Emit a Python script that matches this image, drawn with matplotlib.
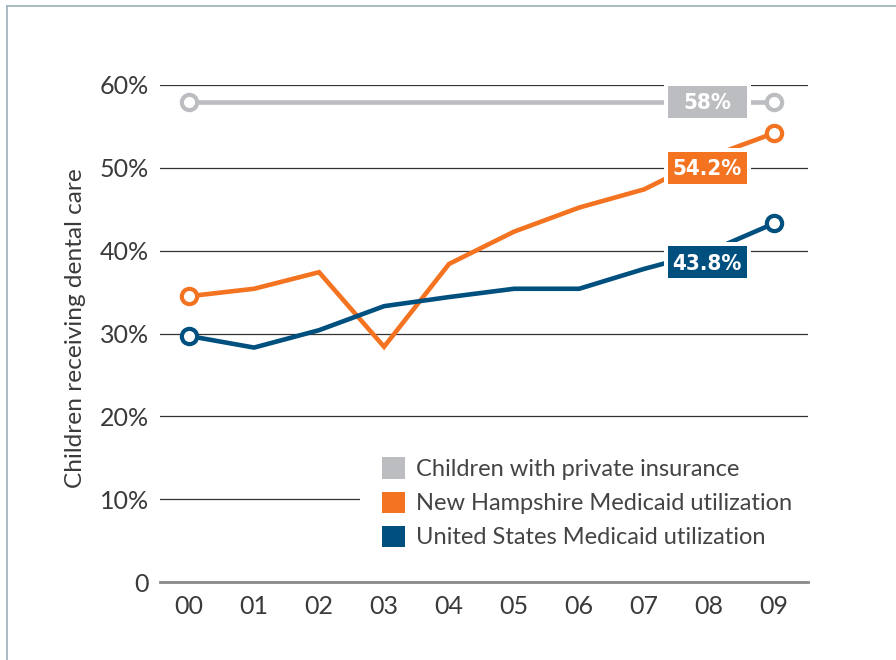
import matplotlib as mpl
mpl.use('Agg')
import matplotlib.pyplot as plt
from matplotlib.patches import Rectangle
from matplotlib.lines import Line2D

years = ['00', '01', '02', '03', '04', '05', '06', '07', '08', '09']
private = [58, 58, 58, 58, 58, 58, 58, 58, 58, 58]
nh_medicaid = [34.5, 35.4, 37.4, 28.4, 38.4, 42.3, 45.2, 47.4, 51.3, 54.2]
us_medicaid = [29.7, 28.3, 30.4, 33.3, 34.4, 35.4, 35.4, 37.8, 39.9, 43.3]
series_names = ['Children with private insurance', 'New Hampshire Medicaid utilization',
                'United States Medicaid utilization']
end_labels = ['58%', '54.2%', '43.8%']
label_y = [58, 50, 38.6]

gray = '#BCBDC0'
orange = '#F37321'
blue = '#00507F'
colors = [gray, orange, blue]

plt.rcParams['font.family'] = ['Lato', 'DejaVu Sans']

fig = plt.figure(figsize=(8.96, 6.6), dpi=100)
ax = fig.add_axes([160/896, 78/660, 648/896, 497/660])

x = list(range(len(years)))
for vals, c, z in zip([private, nh_medicaid, us_medicaid], colors, [3, 4, 5]):
    ax.plot(x, vals, color=c, lw=3.3, zorder=z, solid_joinstyle='miter')
    ax.plot([x[0], x[-1]], [vals[0], vals[-1]], ls='none', marker='o', ms=11,
            mfc='white', mec=c, mew=3, zorder=z + 0.5)

# end value boxes
bw, bh = 79/65, 32/8.28
for txt, yy, c in zip(end_labels, label_y, colors):
    cx = 8 - 0.03
    pw, ph = 8/65, 8/8.28
    ax.add_patch(Rectangle((cx - bw/2 - pw/2, yy - bh/2 - ph/2), bw + pw, bh + ph,
                           facecolor='white', edgecolor='none', zorder=8))
    ax.add_patch(Rectangle((cx - bw/2, yy - bh/2), bw, bh,
                           facecolor=c, edgecolor='none', zorder=9))
    ax.text(cx, yy - 0.2, txt, color='white', fontsize=16, fontweight='bold',
            family='DejaVu Sans', fontstretch='condensed',
            ha='center', va='center', zorder=10)

ax.set_xlim(-0.446, 9.52)
ax.set_ylim(0, 60)
ax.set_yticks([0, 10, 20, 30, 40, 50, 60])
ax.set_yticklabels(['0', '10%', '20%', '30%', '40%', '50%', '60%'])
ax.set_xticks(x)
ax.set_xticklabels(years)
ax.grid(axis='y', color='#333333', lw=0.9, zorder=1)
ax.set_axisbelow(True)
for s in ['top', 'right', 'left']:
    ax.spines[s].set_visible(False)
ax.spines['bottom'].set_color('#8a8a8a')
ax.spines['bottom'].set_linewidth(2)
ax.tick_params(length=0, labelsize=18, labelcolor='#3a3a3a')
ax.tick_params(axis='y', pad=8)
ax.tick_params(axis='x', pad=9)
ax.set_ylabel('Children receiving dental care', fontsize=17.6, color='#3a3a3a')
ax.yaxis.set_label_coords(-0.114, 0.511)

# white patch that hides the grid behind the legend
ax.add_patch(Rectangle((200/648, 22/497), 1, 118/497, transform=ax.transAxes,
                       facecolor='white', edgecolor='none', zorder=6, clip_on=False))

handles = [Rectangle((0, 0), 1, 1, facecolor=c) for c in colors]
leg = ax.legend(handles, series_names, loc='lower left', bbox_to_anchor=(205/648, 17/497),
                frameon=False, fontsize=17, handlelength=1.0, handleheight=1.0,
                handletextpad=0.45, labelspacing=0.49, borderpad=0.2,
                labelcolor='#444444')
leg.set_zorder(20)

# outer frame
fig.add_artist(Line2D([7/896, 7/896], [0, 1 - 6/660], color='#9EB0BA', lw=1.2))
fig.add_artist(Line2D([7/896, 1], [1 - 6/660, 1 - 6/660], color='#9EB0BA', lw=1.2))

fig.savefig('out.png', dpi=100)
